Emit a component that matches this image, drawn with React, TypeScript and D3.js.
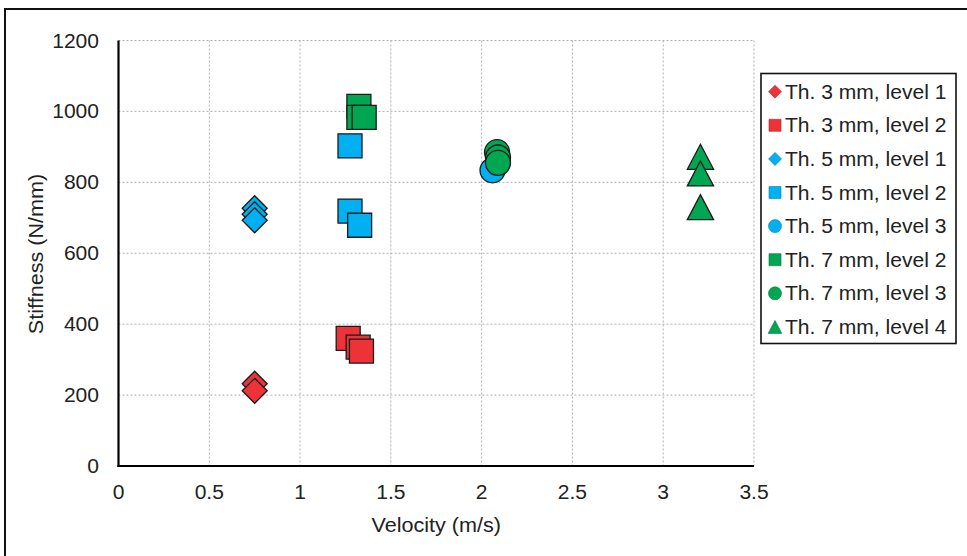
import React from "react";
import * as d3 from "d3";

const seriesNames = [
  "Th. 3 mm, level 1",
  "Th. 3 mm, level 2",
  "Th. 5 mm, level 1",
  "Th. 5 mm, level 2",
  "Th. 5 mm, level 3",
  "Th. 7 mm, level 2",
  "Th. 7 mm, level 3",
  "Th. 7 mm, level 4",
];
const seriesShapes = ["diamond", "square", "diamond", "square", "circle", "square", "circle", "triangle"];
const seriesColors = ["#EE3338", "#EE3338", "#00B0F0", "#00B0F0", "#00B0F0", "#00A651", "#00A651", "#00A651"];
const legendStroke = ["#B02025", "#B02025", "#0080B0", "#0080B0", "#0080B0", "#007A3C", "#007A3C", "#007A3C"];

const velocities: number[][] = [
  [0.75, 0.75],
  [1.265, 1.32, 1.338],
  [0.75, 0.75, 0.75],
  [1.275, 1.275, 1.328],
  [2.06],
  [1.324, 1.324, 1.353],
  [2.085, 2.09, 2.09],
  [3.205, 3.205, 3.205],
];
const stiffness: number[][] = [
  [232, 212],
  [360, 335, 324],
  [727, 710, 693],
  [903, 719, 679],
  [834],
  [1014, 983, 983],
  [885, 870, 855],
  [872, 825, 730],
];

const xTicks = [0, 0.5, 1, 1.5, 2, 2.5, 3, 3.5];
const yTicks = [0, 200, 400, 600, 800, 1000, 1200];

function shapePath(shape: string, r: number): string {
  if (shape === "diamond") return `M0,${-r}L${r},0L0,${r}L${-r},0Z`;
  if (shape === "square") return `M${-r},${-r}H${r}V${r}H${-r}Z`;
  if (shape === "triangle") return `M0,${-r}L${r * 1.05},${r}L${-r * 1.05},${r}Z`;
  return `M${r},0A${r},${r} 0 1,1 ${-r},0A${r},${r} 0 1,1 ${r},0Z`;
}

const font = "'Liberation Sans', Arial, sans-serif";
const SX = 1.08;

function T(props: { x: number; y: number; anchor?: string; size?: number; rotate?: boolean; children: React.ReactNode }) {
  const { x, y, anchor = "start", size = 19.5, rotate = false, children } = props;
  const tr = rotate ? `translate(${x},${y}) rotate(-90) scale(${SX},1)` : `translate(${x},${y}) scale(${SX},1)`;
  return (
    <text transform={tr} textAnchor={anchor} fontFamily={font} fontSize={size} fill="#222">
      {children}
    </text>
  );
}

export default function App() {
  const W = 967, H = 556;
  const left = 118.5, right = 754, top = 40.5, bottom = 466;
  const x = d3.scaleLinear().domain([0, 3.5]).range([left, right]);
  const y = d3.scaleLinear().domain([0, 1200]).range([bottom, top]);
  const markerR: Record<string, number> = { diamond: 12.5, square: 12, circle: 12.5, triangle: 12.5 };
  const legendR: Record<string, number> = { diamond: 6.5, square: 6, circle: 6.5, triangle: 6.5 };

  return (
    <svg width={W} height={H} style={{ position: "absolute", left: 0, top: 0, background: "#fff" }}>
      <rect x={5} y={9} width={W + 10} height={H + 10} fill="#fff" stroke="#111" strokeWidth={2} />
      {xTicks.slice(1).map((t) => (
        <line key={"gx" + t} x1={x(t)} x2={x(t)} y1={top} y2={bottom} stroke="#b0b0b0" strokeWidth={1} strokeDasharray="2,2" />
      ))}
      {yTicks.slice(1).map((t) => (
        <line key={"gy" + t} x1={left} x2={right} y1={y(t)} y2={y(t)} stroke="#b0b0b0" strokeWidth={1} strokeDasharray="2,2" />
      ))}
      <line x1={left} x2={left} y1={top} y2={bottom + 1} stroke="#000" strokeWidth={2.2} />
      <line x1={left - 1} x2={right} y1={bottom} y2={bottom} stroke="#000" strokeWidth={2.2} />
      {yTicks.map((t) => (
        <T key={"ty" + t} x={99} y={y(t) + 7} anchor="end">
          {t}
        </T>
      ))}
      {xTicks.map((t) => (
        <T key={"tx" + t} x={x(t)} y={499} anchor="middle">
          {t}
        </T>
      ))}
      <T x={(left + right) / 2} y={531.5} anchor="middle" size={20}>
        Velocity (m/s)
      </T>
      <T x={43} y={254} anchor="middle" size={20} rotate>
        Stiffness (N/mm)
      </T>
      {seriesNames.map((name, si) => (
        <g key={name}>
          {velocities[si].map((v, i) => (
            <path
              key={i}
              transform={`translate(${x(v)},${y(stiffness[si][i])})`}
              d={shapePath(seriesShapes[si], markerR[seriesShapes[si]])}
              fill={seriesColors[si]}
              stroke="#1a1a1a"
              strokeWidth={1.3}
            />
          ))}
        </g>
      ))}
      <rect x={761} y={73.5} width={195} height={270} fill="#fff" stroke="#111" strokeWidth={1.6} />
      {seriesNames.map((name, si) => {
        const cy = 91.7 + si * 33.6;
        return (
          <g key={"lg" + name}>
            <path
              transform={`translate(775,${cy})`}
              d={shapePath(seriesShapes[si], legendR[seriesShapes[si]])}
              fill={seriesColors[si]}
              stroke={legendStroke[si]}
              strokeWidth={0.6}
            />
            <T x={785} y={cy + 7}>
              {name}
            </T>
          </g>
        );
      })}
    </svg>
  );
}
